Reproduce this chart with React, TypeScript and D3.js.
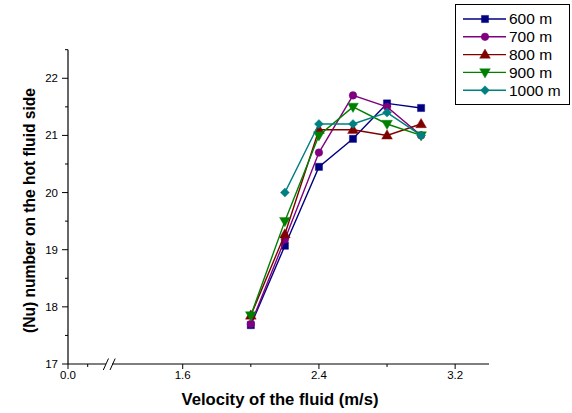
import React from "react";
import * as d3 from "d3";

const velocities = [2.0, 2.2, 2.4, 2.6, 2.8, 3.0];
const seriesNames = ["600 m", "700 m", "800 m", "900 m", "1000 m"];
const nu600 = [17.68, 19.07, 20.45, 20.94, 21.56, 21.48];
const nu700 = [17.7, 19.18, 20.7, 21.7, 21.5, 21.0];
const nu800 = [17.85, 19.27, 21.1, 21.1, 21.0, 21.2];
const nu900 = [17.85, 19.5, 21.0, 21.5, 21.2, 21.0];
const nu1000 = [null, 20.0, 21.2, 21.2, 21.4, 21.0];
const colors = ["#000080", "#800080", "#800000", "#008000", "#008080"];
const symbols = ["square", "circle", "triangle", "triangleDown", "diamond"];
const xMajorTicks = [0.0, 1.6, 2.4, 3.2];
const xMinorTicks = [0.4, 2.0, 2.8];
const yMajorTicks = [17, 18, 19, 20, 21, 22];
const yMinorTicks = [17.5, 18.5, 19.5, 20.5, 21.5, 22.5];

const allSeries = [nu600, nu700, nu800, nu900, nu1000];

const x = d3.scaleLinear().domain([0, 0.8, 1.2, 3.4]).range([68, 107.4, 114.6, 489.2]);
const y = d3.scaleLinear().domain([17, 22.5]).range([364, 49.7]);

const FONT = "'Liberation Sans', Arial, sans-serif";

function symbolPath(kind: string): string {
  const map: Record<string, { t: d3.SymbolType; s: number }> = {
    square: { t: d3.symbolSquare, s: 52 },
    circle: { t: d3.symbolCircle, s: 46 },
    triangle: { t: d3.symbolTriangle, s: 50 },
    triangleDown: { t: d3.symbolTriangle, s: 50 },
    diamond: { t: d3.symbolSquare, s: 40 },
  };
  const m = map[kind];
  return d3.symbol().type(m.t).size(m.s)() as string;
}

function Marker({ kind, cx, cy, color }: { kind: string; cx: number; cy: number; color: string }) {
  const rot = kind === "triangleDown" ? " rotate(180)" : kind === "diamond" ? " rotate(45)" : "";
  const dy = kind === "triangle" ? 0.6 : kind === "triangleDown" ? -0.6 : 0;
  return (
    <path
      d={symbolPath(kind)}
      transform={`translate(${cx},${cy + dy})${rot}`}
      fill={color}
      stroke={color}
      strokeWidth={0.4}
    />
  );
}

export default function App() {
  const line = d3
    .line<[number, number | null]>()
    .defined((d) => d[1] !== null)
    .x((d) => x(d[0]))
    .y((d) => y(d[1] as number));

  const axisY = y(17);
  return (
    <svg
      width={572}
      height={413}
      style={{ position: "absolute", left: 0, top: 0, background: "#fff" }}
      fontFamily={FONT}
    >
      <rect x={0} y={0} width={572} height={413} fill="#fff" />
      {/* Y axis */}
      <line x1={68} y1={y(22.5)} x2={68} y2={axisY} stroke="#000" strokeWidth={1.2} />
      {yMajorTicks.map((t) => (
        <g key={"ym" + t}>
          <line x1={62} x2={68} y1={y(t)} y2={y(t)} stroke="#000" strokeWidth={1} />
          <text x={58} y={y(t) + 4} fontSize={11.5} textAnchor="end" fill="#000">
            {t}
          </text>
        </g>
      ))}
      {yMinorTicks.map((t) => (
        <line key={"yn" + t} x1={65} x2={68} y1={y(t)} y2={y(t)} stroke="#000" strokeWidth={1} />
      ))}
      {/* X axis with break */}
      <line x1={68} y1={axisY} x2={106} y2={axisY} stroke="#000" strokeWidth={1.2} />
      <line x1={112} y1={axisY} x2={489} y2={axisY} stroke="#000" strokeWidth={1.2} />
      <line x1={103.3} y1={370} x2={108.5} y2={358.5} stroke="#000" strokeWidth={1} />
      <line x1={110} y1={370} x2={115.2} y2={358.5} stroke="#000" strokeWidth={1} />
      {xMajorTicks.map((t) => (
        <g key={"xm" + t}>
          <line x1={x(t)} x2={x(t)} y1={axisY} y2={axisY + 5} stroke="#000" strokeWidth={1} />
          <text x={x(t)} y={axisY + 15} fontSize={11.5} textAnchor="middle" fill="#000">
            {t.toFixed(1)}
          </text>
        </g>
      ))}
      {xMinorTicks.map((t) => (
        <line key={"xn" + t} x1={x(t)} x2={x(t)} y1={axisY} y2={axisY + 3} stroke="#000" strokeWidth={1} />
      ))}
      {/* Axis titles */}
      <text
        x={280}
        y={405}
        fontSize={16}
        fontWeight="bold"
        textAnchor="middle"
        textLength={197}
        lengthAdjust="spacingAndGlyphs"
        fill="#000"
      >
        Velocity of the fluid (m/s)
      </text>
      <text
        transform={`translate(35,${210.5}) rotate(-90)`}
        fontSize={16}
        fontWeight="bold"
        textAnchor="middle"
        textLength={245}
        lengthAdjust="spacingAndGlyphs"
        fill="#000"
      >
        (Nu) number on the hot fluid side
      </text>
      {/* Series */}
      {allSeries.map((vals, i) => {
        const pts = velocities.map((v, j) => [v, vals[j]] as [number, number | null]);
        return (
          <g key={seriesNames[i]}>
            <path d={line(pts) as string} fill="none" stroke={colors[i]} strokeWidth={1.4} />
            {pts
              .filter((p) => p[1] !== null)
              .map((p, j) => (
                <Marker key={j} kind={symbols[i]} cx={x(p[0])} cy={y(p[1] as number)} color={colors[i]} />
              ))}
          </g>
        );
      })}
      {/* Legend */}
      <rect x={455.5} y={4.5} width={114} height={100} fill="#fff" stroke="#000" strokeWidth={1} />
      {seriesNames.map((name, i) => {
        const cy = 19 + i * 17.8;
        return (
          <g key={"lg" + name}>
            <line x1={463} x2={506} y1={cy} y2={cy} stroke={colors[i]} strokeWidth={1.4} />
            <Marker kind={symbols[i]} cx={485} cy={cy} color={colors[i]} />
            <text x={509} y={cy + 5.3} fontSize={15.5} fill="#000">
              {name}
            </text>
          </g>
        );
      })}
    </svg>
  );
}
